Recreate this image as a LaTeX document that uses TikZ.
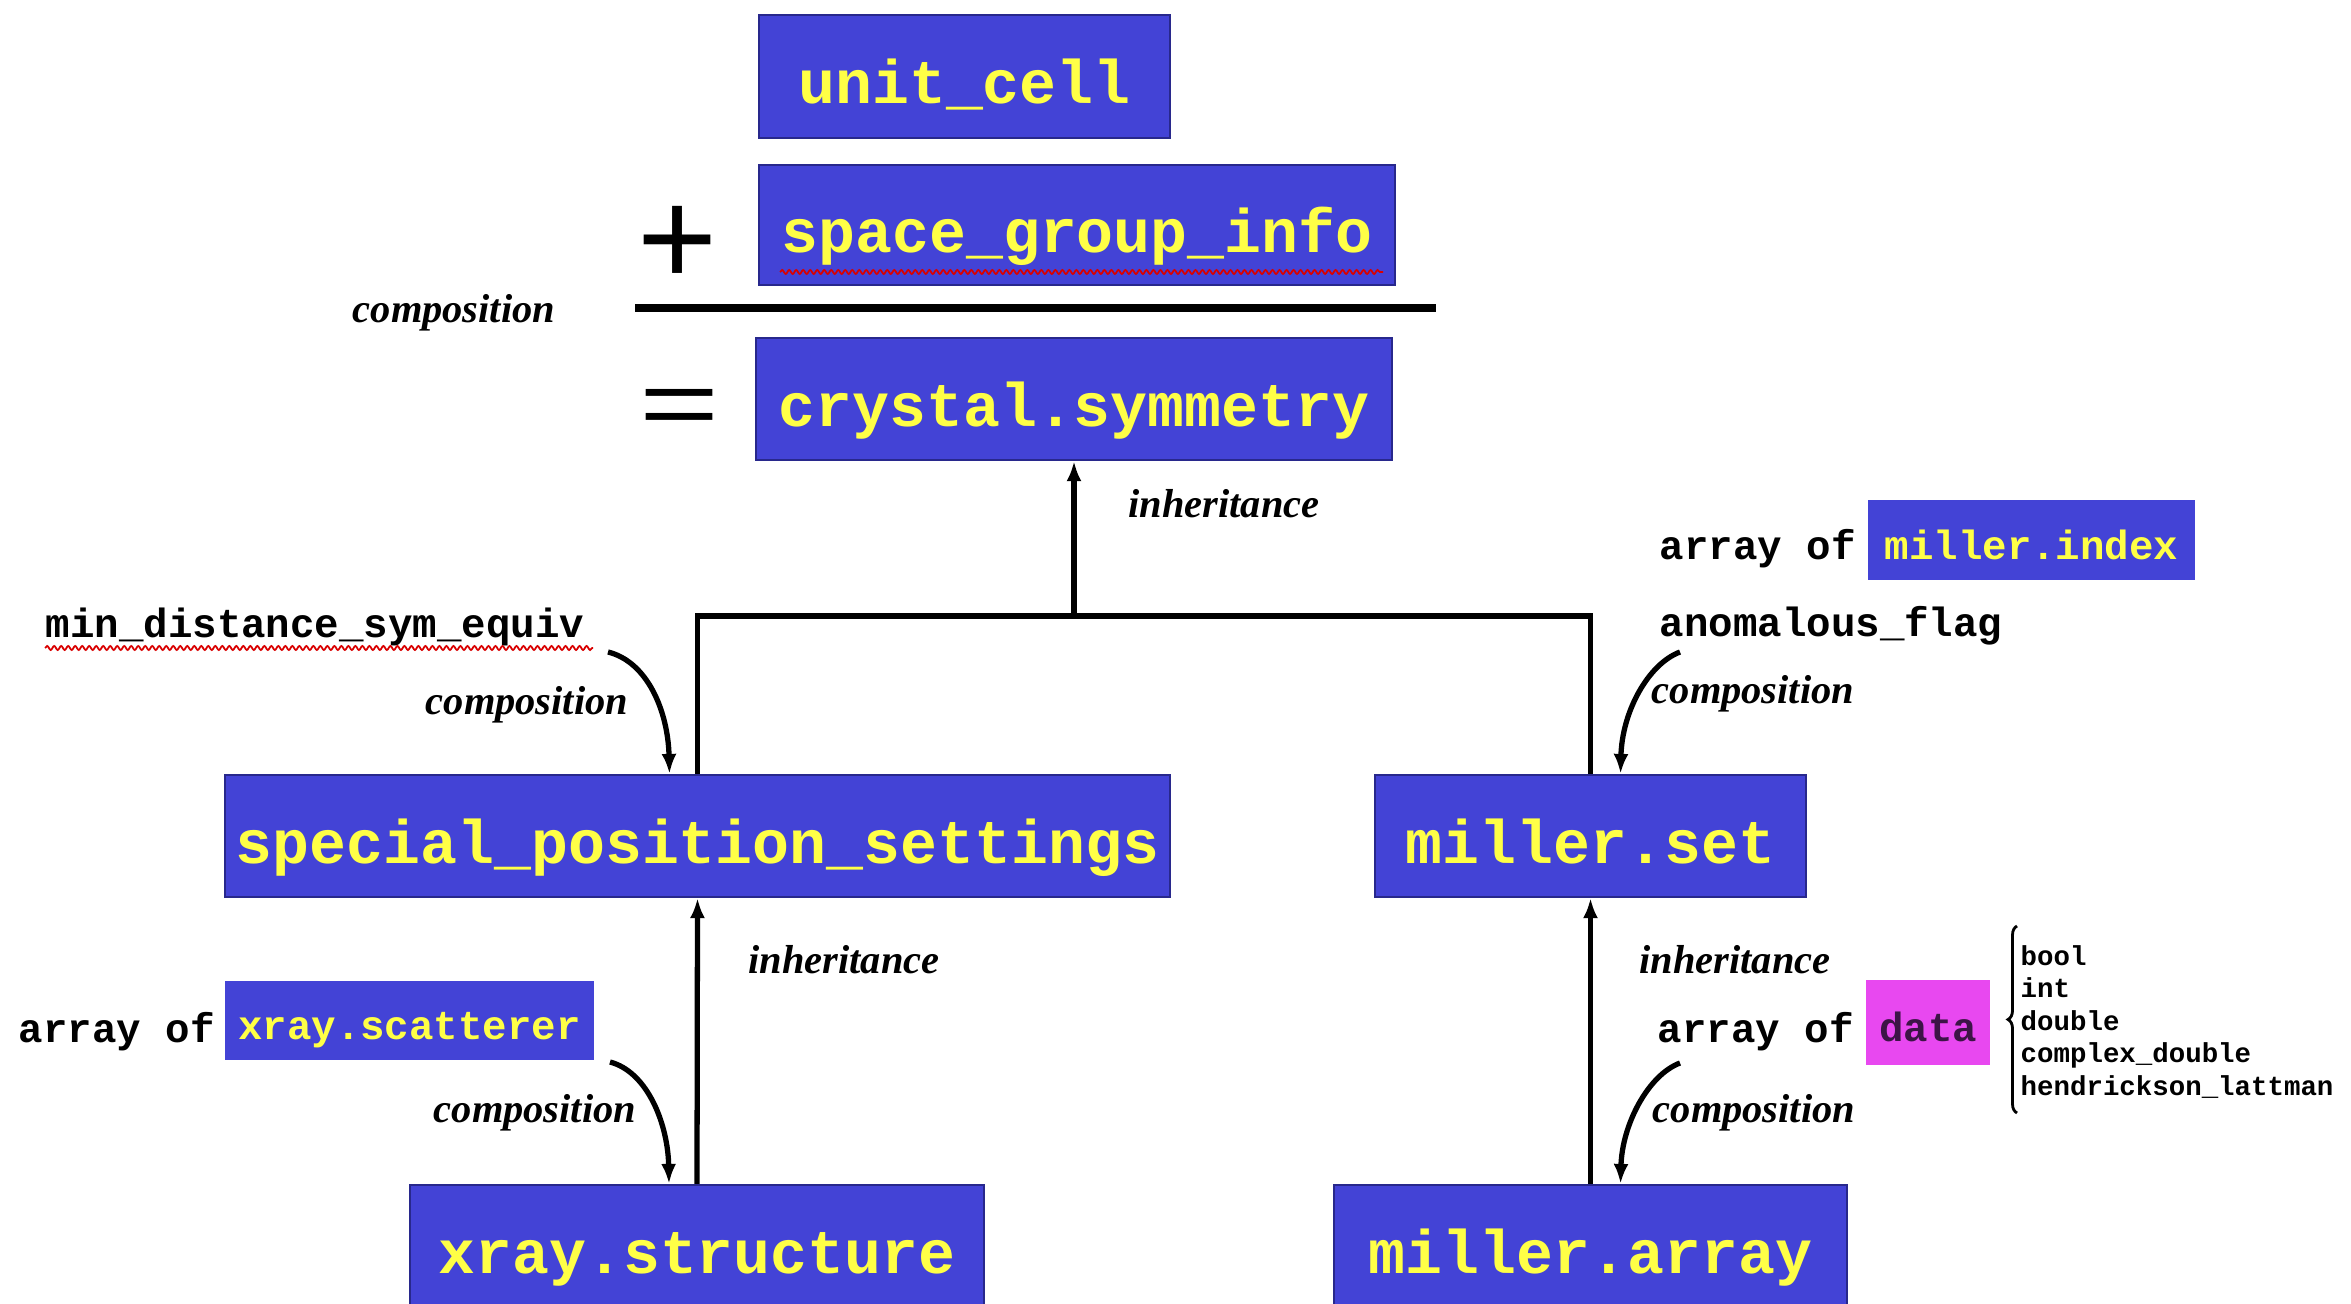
\documentclass[tikz,border=0pt]{standalone}
\usepackage{fontspec}
\usepackage{graphicx}
\setmainfont{Liberation Serif}
\setsansfont{Liberation Sans}
\setmonofont{Liberation Mono}
\usetikzlibrary{arrows.meta,decorations.pathreplacing,decorations.pathmorphing}
\definecolor{boxblue}{RGB}{67,67,214}
\definecolor{boxedge}{RGB}{40,40,140}
\definecolor{ylw}{RGB}{255,255,70}
\definecolor{mag}{RGB}{232,72,240}
\definecolor{darktxt}{RGB}{60,20,70}
\begin{document}
\begin{tikzpicture}[x=0.01cm,y=-0.01cm,
  bigbox/.style={draw=boxedge, line width=0.6pt, fill=boxblue, text=ylw,
    font=\fontsize{17.5}{20}\selectfont\ttfamily\bfseries, inner sep=0pt,
    text height=16pt, text depth=0.4pt},
  smallbox/.style={fill=boxblue, text=ylw,
    font=\fontsize{11.6}{13}\selectfont\ttfamily\bfseries, inner sep=0pt,
    text height=11.3pt, text depth=0.3pt},
  monotext/.style={font=\fontsize{11.6}{13}\selectfont\ttfamily\bfseries, inner sep=0pt, text=black},
  relabel/.style={font=\fontsize{11.5}{13}\selectfont\bfseries\itshape, inner sep=0pt, text=black},
  inhline/.style={line width=1.5pt, black},
  inharrow/.style={line width=1.5pt, black, -{Latex[length=0.2cm,width=0.15cm]}},
  comparrow/.style={line width=1.5pt, black, -{Latex[length=0.2cm,width=0.15cm]}},
  squiggle/.style={red!85!black, line width=0.5pt, decorate,
    decoration={snake, amplitude=0.02cm, segment length=0.07cm}}
]
\fill[white] (0,0) rectangle (2351,1304);
\useasboundingbox (0,0) rectangle (2351,1304);

% top equation
\node[bigbox, minimum width=4.11cm, minimum height=1.23cm] (uc) at (964.5,76.5) {unit\_cell};
\node[bigbox, minimum width=6.36cm, minimum height=1.20cm] (sgi) at (1077,225) {space\_group\_info};
\node[bigbox, minimum width=6.36cm, minimum height=1.22cm] (cs) at (1074,399) {crystal.symmetry};
\draw[squiggle] (780,272) -- (1383,272);
\node[font=\fontsize{39}{40}\selectfont\sffamily, inner sep=0pt] (plus) at (678,246) {+};
\node[font=\fontsize{39}{40}\selectfont\sffamily, inner sep=0pt] (eq) at (680,413) {\scalebox{1}[0.7]{=}};
\coordinate (ruleL) at (635,308);
\coordinate (ruleR) at (1436,308);
\draw[line width=2pt] (ruleL) -- (ruleR);
\node[relabel] (compTop) at (454,313) {composition};

% middle level
\node[bigbox, minimum width=9.45cm, minimum height=1.22cm] (sps) at (697.5,836) {special\_position\_settings};
\node[bigbox, minimum width=4.31cm, minimum height=1.22cm] (ms) at (1590.5,836) {miller.set};
\coordinate (tj) at (1074,616);
\draw[inhline] (sps.north) |- (tj) -| (ms.north);
\draw[inharrow] (tj) -- (cs.south);
\node[relabel] (inhTop) at (1224,504) {inheritance};

% left composition (min_distance_sym_equiv)
\node[monotext, anchor=base west] (mdse) at (45,638) {min\_distance\_sym\_equiv};
\draw[squiggle] (45,648) -- (593,648);
\coordinate (c1) at (608,652);
\draw[comparrow] (c1) .. controls (648,662) and (668,712) .. ([xshift=-0.28cm]sps.north);
\node[relabel] (compL1) at (527,705) {composition};

% right composition (miller.index, anomalous_flag)
\node[smallbox, minimum width=3.27cm, minimum height=0.80cm] (mi) at (2031.5,540) {miller.index};
\node[monotext, anchor=base west] (ao1) at (1659,560) {array of};
\node[monotext, anchor=base west] (af) at (1659,637) {anomalous\_flag};
\coordinate (c2) at (1680,652);
\draw[comparrow] (c2) .. controls (1648,664) and (1622,712) .. ([xshift=0.3cm]ms.north);
\node[relabel] (compR1) at (1753,694) {composition};

% bottom level
\node[bigbox, minimum width=5.74cm, minimum height=1.22cm] (xs) at (697,1246) {xray.structure};
\node[bigbox, minimum width=5.13cm, minimum height=1.22cm] (ma) at (1590.5,1246) {miller.array};
\draw[inharrow] (xs.north) -- (sps.south);
\draw[inharrow] (ma.north) -- (ms.south);
\node[relabel] (inhL) at (844,960) {inheritance};
\node[relabel] (inhR) at (1735,960) {inheritance};

% xray.scatterer
\node[smallbox, minimum width=3.69cm, minimum height=0.79cm] (xsc) at (409.5,1020.5) {xray.scatterer};
\node[monotext, anchor=base west] (ao2) at (18,1043) {array of};
\coordinate (c3) at (610,1062);
\draw[comparrow] (c3) .. controls (648,1072) and (668,1125) .. ([xshift=-0.28cm]xs.north);
\node[relabel] (compL2) at (535,1113) {composition};

% data
\node[smallbox, fill=mag, text=darktxt, minimum width=1.24cm, minimum height=0.85cm] (data) at (1928,1022.5) {data};
\node[monotext, anchor=base west] (ao3) at (1657,1043) {array of};
\coordinate (c4) at (1680,1063);
\draw[comparrow] (c4) .. controls (1648,1075) and (1622,1125) .. ([xshift=0.3cm]ma.north);
\node[relabel] (compR2) at (1754,1113) {composition};

% data types
\node[font=\fontsize{7.8}{9.25}\selectfont\ttfamily\bfseries, align=left, anchor=west, inner sep=0pt] (dt) at (2020,1022)
  {bool\\int\\double\\complex\_double\\hendrickson\_lattman};
\draw[line width=0.8pt, decorate, decoration={brace, amplitude=0.09cm}] (2017,1113) -- (2017,926);
\end{tikzpicture}
\end{document}
